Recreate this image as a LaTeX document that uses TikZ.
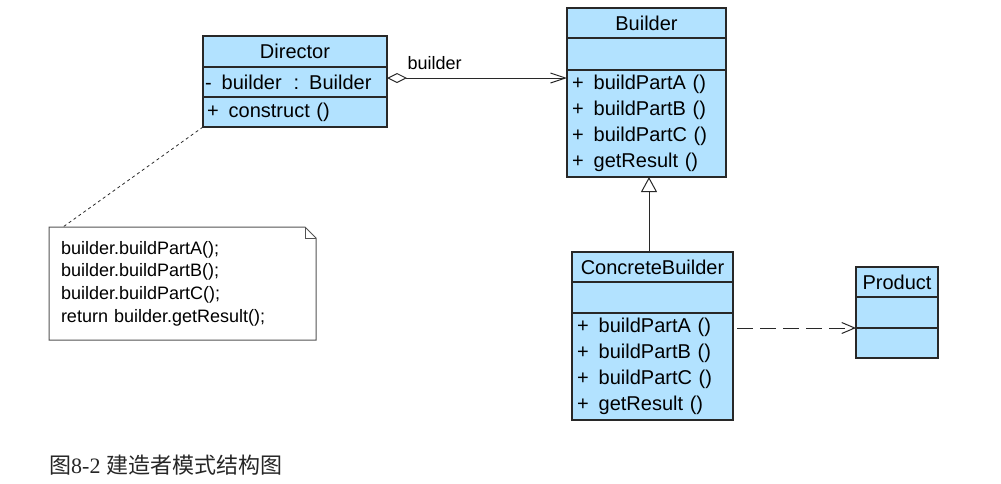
\documentclass[tikz,border=0pt]{standalone}
\usepackage{fontspec}
\setmainfont{Liberation Sans}
\newfontfamily\cjkfont{Noto Sans CJK SC}
\newfontfamily\capserif{Liberation Serif}
\usetikzlibrary{arrows.meta,calc}
\definecolor{umlblue}{RGB}{178,226,255}
\definecolor{linec}{RGB}{40,40,40}
\begin{document}
\begin{tikzpicture}[x=1pt,y=-1pt,
  cls/.style={draw=linec, fill=umlblue, line width=1.2pt, inner sep=0pt, outer sep=0pt, anchor=north west,
              font=\fontsize{20}{26}\selectfont, text=black},
  cmem/.style={cls, align=left, inner xsep=5pt},
  notebox/.style={draw=linec!80, line width=1pt},
  agg/.style={draw=linec, line width=1pt, {Diamond[open,length=20pt,width=10pt]}-{Straight Barb[length=15pt,width=10pt]}},
  inh/.style={draw=linec, line width=1pt, -{Triangle[open,length=15pt,width=16pt]}},
  dep/.style={draw=linec, line width=1pt, dash pattern=on 16pt off 7pt, -{Straight Barb[length=13pt,width=11pt]}},
  anchorline/.style={draw=linec, line width=0.8pt, dash pattern=on 3pt off 3pt}
]
\useasboundingbox (0,0) rectangle (1001,483);

% Director
\node[cls, minimum width=184pt, minimum height=31pt] (dirT) at (203,36) {Director};
\node[cmem, inner xsep=2pt, text width=180pt, minimum height=30pt] (dirA) at (dirT.south west) {-\hspace{10pt}builder\hspace{12pt}: Builder};
\node[cmem, inner xsep=4pt, text width=176pt, minimum height=30pt] (dirM) at (dirA.south west) {+\hspace{10pt}construct ()};

% Builder
\node[cls, minimum width=159pt, minimum height=30pt] (bldT) at (567,8) {Builder};
\node[cls, minimum width=159pt, minimum height=32pt] (bldA) at (bldT.south west) {};
\node[cmem, text width=149pt, minimum height=107pt] (bldM) at (bldA.south west)
  {+\hspace{10pt}buildPartA ()\\+\hspace{10pt}buildPartB ()\\+\hspace{10pt}buildPartC ()\\+\hspace{10pt}getResult ()};

% ConcreteBuilder
\node[cls, minimum width=161pt, minimum height=30pt] (cbT) at (572,252) {ConcreteBuilder};
\node[cls, minimum width=161pt, minimum height=31pt] (cbA) at (cbT.south west) {};
\node[cmem, text width=151pt, minimum height=107pt] (cbM) at (cbA.south west)
  {+\hspace{10pt}buildPartA ()\\+\hspace{10pt}buildPartB ()\\+\hspace{10pt}buildPartC ()\\+\hspace{10pt}getResult ()};

% Product
\node[cls, minimum width=82pt, minimum height=30pt] (prT) at (856,267) {Product};
\node[cls, minimum width=82pt, minimum height=31pt] (prA) at (prT.south west) {};
\node[cls, minimum width=82pt, minimum height=30pt] (prM) at (prA.south west) {};

% Note
\node[anchor=north west, minimum width=267pt, minimum height=113pt, text width=243pt,
      inner xsep=12pt, inner ysep=0pt, outer sep=0pt, align=left, font=\fontsize{18}{22.7}\selectfont] (note) at (49,227)
  {builder.buildPartA();\\builder.buildPartB();\\builder.buildPartC();\\return builder.getResult();};
\draw[notebox] (note.north west) -- ([xshift=-11pt]note.north east) -- ([yshift=-11pt]note.north east)
  -- (note.south east) -- (note.south west) -- cycle;
\draw[notebox] ([xshift=-11pt]note.north east) |- ([yshift=-11pt]note.north east);
\coordinate (noteAttach) at ([xshift=14pt]note.north west);
\draw[anchorline] (dirM.south west) -- (noteAttach);

% Connectors
\draw[agg] ([yshift=4pt]dirA.east) -- ([yshift=4pt]dirA.east -| bldM.west)
  node[pos=0.264, anchor=base, yshift=9pt, font=\fontsize{18}{22}\selectfont, text=black] {builder};
\draw[inh] ([xshift=2.5pt]bldM.south |- cbT.north) -- ([xshift=2.5pt]bldM.south);
\draw[dep] ([xshift=4pt]cbM.east |- prM.north west) -- (prM.north west);

% Caption
\node[anchor=west, inner sep=0pt, font=\fontsize{22}{26}\selectfont, text=black!85] (cap) at (49,465)
  {\cjkfont 图\capserif 8-2 \cjkfont 建造者模式结构图};
\end{tikzpicture}
\end{document}
